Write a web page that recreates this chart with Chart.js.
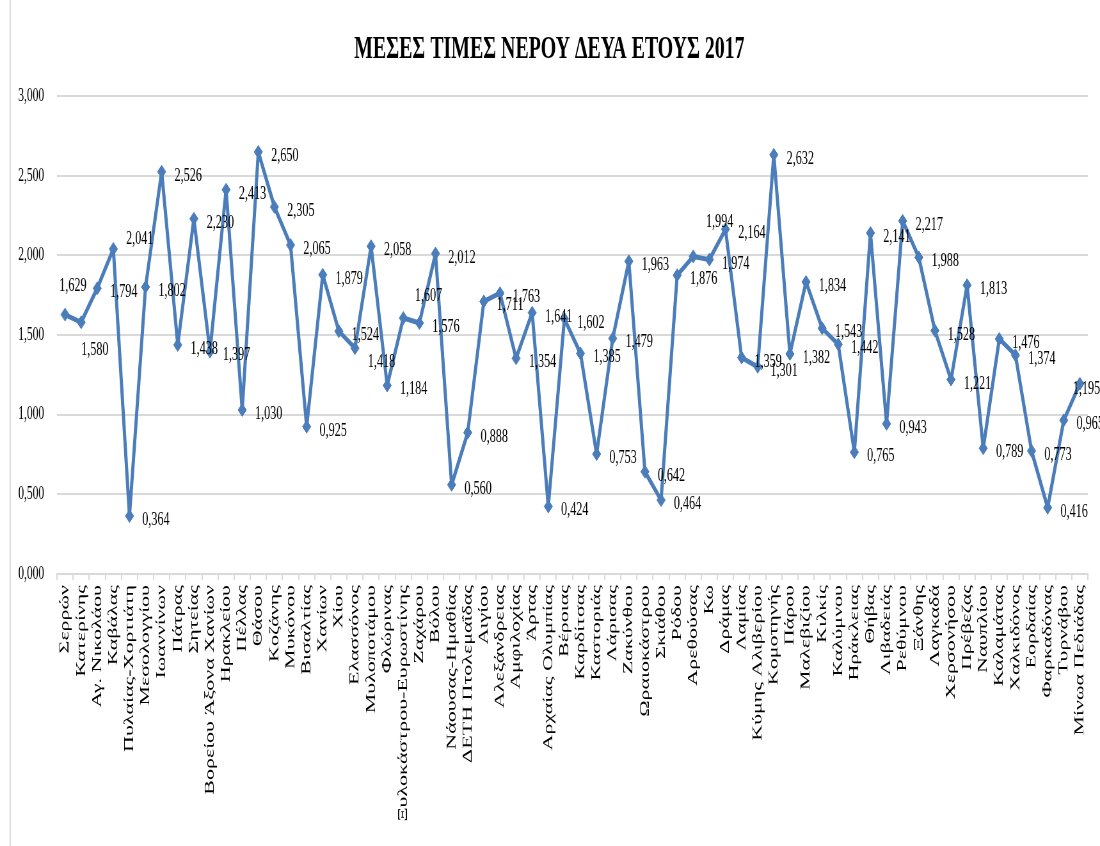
<!DOCTYPE html>
<html>
<head>
<meta charset="utf-8">
<script src="https://cdn.jsdelivr.net/npm/chart.js@4"></script>
<style>
  html, body { margin: 0; padding: 0; background: #fff; overflow: hidden; }
</style>
</head>
<body>
<canvas id="chart" width="1719" height="846" style="display:block;width:1100px;height:846px"></canvas>
<script>
// Categories (DEYA) and mean water prices 2017
const cities = [
    'Σερρών', 'Κατερίνης', 'Αγ. Νικολάου', 'Καβάλας', 'Πυλαίας-Χορτιάτη', 'Μεσολογγίου',
    'Ιωαννίνων', 'Πάτρας', 'Σητείας', 'Βορείου Άξονα Χανίων', 'Ηρακλείου', 'Πέλλας',
    'Θάσου', 'Κοζάνης', 'Μυκόνου', 'Βισαλτίας', 'Χανίων', 'Χίου', 'Ελασσόνος',
    'Μυλοποτάμου', 'Φλώρινας', 'Ξυλοκάστρου-Ευρωστίνης', 'Ζαχάρου', 'Βόλου',
    'Νάουσας-Ημαθίας', 'ΔΕΤΗ Πτολεμαΐδας', 'Αιγίου', 'Αλεξάνδρειας', 'Αμφιλοχίας',
    'Άρτας', 'Αρχαίας Ολυμπίας', 'Βέροιας', 'Καρδίτσας', 'Καστοριάς', 'Λάρισας',
    'Ζακύνθου', 'Ωραιοκάστρου', 'Σκιάθου', 'Ρόδου', 'Αρεθούσας', 'Κω', 'Δράμας',
    'Λαμίας', 'Κύμης Αλιβερίου', 'Κομοτηνής', 'Πάρου', 'Μαλεβιζίου', 'Κιλκίς',
    'Καλύμνου', 'Ηράκλειας', 'Θήβας', 'Λιβαδειάς', 'Ρεθύμνου', 'Ξάνθης', 'Λαγκαδά',
    'Χερσονήσου', 'Πρέβεζας', 'Ναυπλίου', 'Καλαμάτας', 'Χαλκιδόνος', 'Εορδαίας',
    'Φαρκαδόνας', 'Τυρνάβου', 'Μίνωα Πεδιάδας'
];
const prices = [
    1.629, 1.580, 1.794, 2.041, 0.364, 1.802, 2.526, 1.438, 2.230, 1.397, 2.413, 1.030,
    2.650, 2.305, 2.065, 0.925, 1.879, 1.524, 1.418, 2.058, 1.184, 1.607, 1.576, 2.012,
    0.560, 0.888, 1.711, 1.763, 1.354, 1.641, 0.424, 1.602, 1.385, 0.753, 1.479, 1.963,
    0.642, 0.464, 1.876, 1.994, 1.974, 2.164, 1.359, 1.301, 2.632, 1.382, 1.834, 1.543,
    1.442, 0.765, 2.141, 0.943, 2.217, 1.988, 1.528, 1.221, 1.813, 0.789, 1.476, 1.374,
    0.773, 0.416, 0.965, 1.195
];
const yMin = 0;
const yMax = 3;
const yStep = 0.5;

const fmt = v => v.toFixed(3).replace('.', ',');
const SERIF = '"Liberation Serif", "Times New Roman", serif';

// value labels next to each point (+ frame line on the left)
const pointLabels = {
    id: 'pointLabels',
    beforeDraw(chart) {
        const ctx = chart.ctx;
        ctx.save();
        ctx.fillStyle = '#fff';
        ctx.fillRect(0, 0, chart.width, chart.height);
        ctx.strokeStyle = '#d9d9d9';
        ctx.lineWidth = 2;
        ctx.beginPath();
        ctx.moveTo(16, 0);
        ctx.lineTo(16, chart.height);
        ctx.stroke();
        ctx.restore();
    },
    afterDatasetsDraw(chart, args, opts) {
        const ctx = chart.ctx;
        const meta = chart.getDatasetMeta(0);
        const values = chart.data.datasets[0].data;
        ctx.save();
        ctx.font = '19px ' + SERIF;
        ctx.fillStyle = '#000';
        ctx.textBaseline = 'middle';
        ctx.textAlign = 'left';
        meta.data.forEach((pt, i) => {
            const s = opts.shifts[i] || [0, 0];
            ctx.fillText(fmt(values[i]), pt.x + 20 + s[0], pt.y + 4 + s[1]);
        });
        ctx.restore();
    }
};

const ctx = document.getElementById('chart').getContext('2d');
const chart = new Chart(ctx, {
    type: 'line',
    data: {
        labels: cities,
        datasets: [{
            data: prices,
            borderColor: '#4a7dba',
            backgroundColor: '#4a7dba',
            borderWidth: 5,
            borderJoinStyle: 'round',
            borderCapStyle: 'round',
            tension: 0,
            pointStyle: 'rectRot',
            pointRadius: 6.5,
            pointBorderWidth: 1,
            pointBackgroundColor: '#4a7dba',
            pointBorderColor: '#4a7dba'
        }]
    },
    options: {
        responsive: false,
        devicePixelRatio: 1,
        animation: false,
        layout: { padding: { left: 0, right: 2, top: 0, bottom: 4 } },
        plugins: {
            legend: { display: false },
            tooltip: { enabled: false },
            title: {
                display: true,
                text: 'ΜΕΣΕΣ ΤΙΜΕΣ ΝΕΡΟΥ ΔΕΥΑ ΕΤΟΥΣ 2017',
                color: '#000',
                font: { family: SERIF, size: 31, weight: 'bold' },
                padding: { top: 31, bottom: 28 }
            },
            pointLabels: {
                // label nudges (canvas px) where the original moved them
                shifts: {
                    0: [-29, -33], 1: [-20, 24], 3: [0, -14], 18: [0, 10],
                    21: [-2, -26], 39: [0, -38], 63: [-31, 1]
                }
            }
        },
        scales: {
            x: {
                offset: true,
                grid: {
                    offset: true,
                    drawOnChartArea: false,
                    color: '#d9d9d9',
                    lineWidth: 2,
                    tickLength: 6
                },
                border: { color: '#d9d9d9', width: 2 },
                ticks: {
                    autoSkip: false,
                    minRotation: 90,
                    maxRotation: 90,
                    padding: 5,
                    color: '#000',
                    font: { family: SERIF, size: 22 }
                },
                afterFit(scale) { scale.height = 268; }
            },
            y: {
                min: yMin,
                max: yMax,
                grid: { color: '#d9d9d9', lineWidth: 2, drawTicks: false },
                border: { display: false },
                ticks: {
                    stepSize: yStep,
                    padding: 20,
                    color: '#000',
                    font: { family: SERIF, size: 18 },
                    callback: v => fmt(v)
                },
                afterFit(scale) { scale.width = 89; }
            }
        }
    },
    plugins: [pointLabels]
});
</script>
</body>
</html>
